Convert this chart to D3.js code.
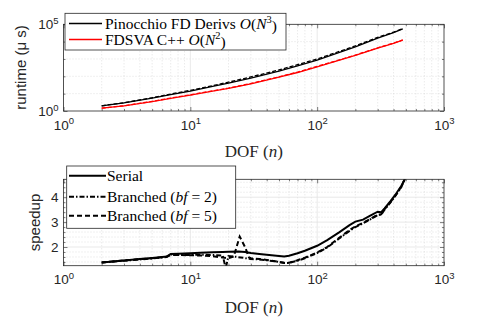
<!DOCTYPE html>
<html>
<head>
<meta charset="utf-8">
<script src="https://cdn.jsdelivr.net/npm/d3@7"></script>
<style>
  body { margin: 0; background: #fff; }
  svg { display: block; }
</style>
</head>
<body>
<svg id="chart" width="491" height="327"></svg>
<script>
// top panel: runtime in microseconds
const nTop = [2, 3, 5, 7, 10, 15, 20, 30, 50, 70, 100, 150, 200, 300, 400, 473];
const pinocchio = [2.0, 2.95, 5.6, 8.9, 14, 26, 40, 79, 200, 400, 870, 2400, 5000, 16000, 33000, 54000];
const pinocchioB = [2.0, 3.0, 5.8, 9.5, 15.5, 29, 46, 92, 235, 470, 1000, 2750, 5700, 17500, 35000, 56000];
const fdsva = [1.45, 2.0, 3.5, 5.4, 8.3, 14, 20, 37, 89, 166, 355, 850, 1600, 4200, 7900, 12300];
const fdsvaB = [1.45, 2.0, 3.6, 5.6, 8.6, 14.5, 21, 39, 93, 175, 375, 890, 1680, 4400, 8200, 12600];

// bottom panel: speedup
const nSerial = [2, 3, 4, 5, 6, 6.5, 7, 8, 10, 12, 15, 18, 20, 24, 27, 30, 35, 40, 50, 55, 60, 70, 80, 100, 120, 150, 180, 200, 230, 260, 300, 320, 340, 380, 420, 460, 500];
const serial = [1.38, 1.46, 1.52, 1.56, 1.60, 1.62, 1.72, 1.73, 1.75, 1.77, 1.79, 1.80, 1.81, 1.82, 1.80, 1.76, 1.72, 1.69, 1.64, 1.62, 1.65, 1.75, 1.85, 2.05, 2.28, 2.60, 2.88, 3.02, 3.10, 3.25, 3.42, 3.40, 3.55, 3.85, 4.15, 4.45, 4.8];
const nBf2 = [2, 3, 4, 5, 6, 6.5, 7, 8, 10, 12, 15, 18, 19, 20, 22, 25, 30, 35, 40, 50, 55, 60, 70, 80, 100, 120, 150, 180, 200, 230, 260, 300, 320, 340, 380, 420, 460, 500];
const bf2 = [1.38, 1.45, 1.50, 1.54, 1.58, 1.60, 1.70, 1.68, 1.68, 1.69, 1.68, 1.66, 1.15, 1.64, 1.62, 1.58, 1.52, 1.50, 1.47, 1.40, 1.36, 1.36, 1.45, 1.55, 1.76, 1.98, 2.35, 2.65, 2.80, 2.95, 3.10, 3.28, 3.30, 3.50, 3.80, 4.10, 4.40, 4.80];
const nBf5 = [2, 3, 4, 5, 6, 6.5, 7, 8, 10, 12, 15, 18, 20, 22, 24.5, 27, 29, 30, 35, 40, 50, 55, 60, 70, 80, 100, 120, 150, 180, 200, 230, 260, 300, 320, 340, 380, 420, 460, 500];
const bf5 = [1.38, 1.46, 1.51, 1.55, 1.59, 1.61, 1.68, 1.68, 1.67, 1.66, 1.63, 1.58, 1.55, 1.62, 2.42, 2.0, 1.58, 1.55, 1.52, 1.48, 1.40, 1.37, 1.37, 1.47, 1.57, 1.78, 2.0, 2.38, 2.68, 2.83, 2.97, 3.12, 3.30, 3.31, 3.52, 3.82, 4.12, 4.42, 4.82];

const xTicks = [1, 10, 100, 1000];
const yTopTicks = [1, 1e5];
const yBotTicks = [2, 3, 4];

const svg = d3.select("#chart");
const axisColor = "#262626";
const left = 63.5, right = 444;
const SERIF = '"Liberation Serif"';
const SANS = '"Liberation Sans"';

const x = d3.scaleLog().domain([1, 1000]).range([left, right]);
const yTop = d3.scaleLog().domain([1, 1e5]).range([111, 24.3]);
const yBot = d3.scaleLinear().domain([1.25, 4.72]).range([265.7, 179.3]);

const minorX = [];
[1, 10, 100].forEach(d => { for (let k = 2; k <= 9; k++) minorX.push(d * k); });

const supLabel = (sel, exps) => {
  sel.selectAll(".tick text").each(function(d, i) {
    const t = d3.select(this).text(null);
    t.append("tspan").text("10");
    t.append("tspan").attr("dy", "-0.55em").style("font-size", "9.5px").text(exps[i]);
  });
};

const drawFrame = (id, yScale, yMajor, yMinor) => {
  const g = svg.append("g").attr("class", id);
  const [y0, y1] = yScale.range();
  g.append("rect").attr("x", left).attr("y", y1).attr("width", right - left).attr("height", y0 - y1).attr("fill", "#fff");

  // grid
  g.selectAll(".mxg").data(minorX).join("line")
    .attr("x1", d => x(d)).attr("x2", d => x(d)).attr("y1", y1).attr("y2", y0)
    .attr("stroke", "#cfcfcf").attr("stroke-width", 0.6).attr("stroke-dasharray", "1,2");
  g.selectAll(".myg").data(yMinor).join("line")
    .attr("x1", left).attr("x2", right).attr("y1", d => yScale(d)).attr("y2", d => yScale(d))
    .attr("stroke", "#cfcfcf").attr("stroke-width", 0.6).attr("stroke-dasharray", "1,2");
  g.selectAll(".Mxg").data([10, 100]).join("line")
    .attr("x1", d => x(d)).attr("x2", d => x(d)).attr("y1", y1).attr("y2", y0)
    .attr("stroke", "#e3e3e3").attr("stroke-width", 0.8);
  g.selectAll(".Myg").data(yMajor.filter(d => yScale(d) > y1 + 1 && yScale(d) < y0 - 1)).join("line")
    .attr("x1", left).attr("x2", right).attr("y1", d => yScale(d)).attr("y2", d => yScale(d))
    .attr("stroke", "#e3e3e3").attr("stroke-width", 0.8);
  return g;
};

const drawAxes = (g, yScale, yMajor, yMinor, yFmt) => {
  const [y0, y1] = yScale.range();
  const style = a => {
    a.select(".domain").remove();
    a.selectAll("line").attr("stroke", axisColor).attr("stroke-width", 0.6);
  };
  const bottom = g.append("g").attr("transform", `translate(0,${y0})`)
    .call(d3.axisBottom(x).tickValues(xTicks).tickSize(-4).tickPadding(9).tickFormat(d => d))
    .call(style);
  bottom.selectAll("text").style("font-family", SANS).style("font-size", "13.5px").attr("fill", axisColor);
  supLabel(bottom, ["0", "1", "2", "3"]);
  g.append("g").attr("transform", `translate(0,${y0})`)
    .call(d3.axisBottom(x).tickValues(minorX).tickSize(-2).tickFormat("")).call(style);
  g.append("g").attr("transform", `translate(0,${y1})`)
    .call(d3.axisTop(x).tickValues(xTicks).tickSize(-4).tickFormat("")).call(style);
  g.append("g").attr("transform", `translate(0,${y1})`)
    .call(d3.axisTop(x).tickValues(minorX).tickSize(-2).tickFormat("")).call(style);

  const la = g.append("g").attr("transform", `translate(${left},0)`)
    .call(d3.axisLeft(yScale).tickValues(yMajor).tickSize(-4).tickPadding(5).tickFormat(yFmt))
    .call(style);
  la.selectAll("text").style("font-family", SANS).style("font-size", "13.5px").attr("fill", axisColor);
  g.append("g").attr("transform", `translate(${right},0)`)
    .call(d3.axisRight(yScale).tickValues(yMajor).tickSize(-4).tickFormat("")).call(style);
  g.append("g").attr("transform", `translate(${left},0)`)
    .call(d3.axisLeft(yScale).tickValues(yMinor).tickSize(-2).tickFormat("")).call(style);
  g.append("g").attr("transform", `translate(${right},0)`)
    .call(d3.axisRight(yScale).tickValues(yMinor).tickSize(-2).tickFormat("")).call(style);

  g.append("rect").attr("x", left).attr("y", y1).attr("width", right - left).attr("height", y0 - y1)
    .attr("fill", "none").attr("stroke", axisColor).attr("stroke-width", 0.8);
  return la;
};

const addClip = (id, yScale) => {
  const [y0, y1] = yScale.range();
  svg.append("clipPath").attr("id", id).append("rect")
    .attr("x", left).attr("y", y1).attr("width", right - left).attr("height", y0 - y1);
};

// ---------- top panel ----------
const topMinor = [10, 100, 1000, 10000];
const gT = drawFrame("top", yTop, yTopTicks, topMinor);
addClip("clipTop", yTop);
const lineTop = d3.line().x(d => x(d[0])).y(d => yTop(d[1]));
const topSeries = [
  { v: fdsvaB, color: "#ff0000", dash: "4,2" },
  { v: fdsva, color: "#ff0000", dash: null },
  { v: pinocchioB, color: "#000", dash: "4,2" },
  { v: pinocchio, color: "#000", dash: null }
];
const gTl = gT.append("g").attr("clip-path", "url(#clipTop)");
topSeries.forEach(s => {
  gTl.append("path").datum(nTop.map((n, i) => [n, s.v[i]]))
    .attr("d", lineTop).attr("fill", "none").attr("stroke", s.color)
    .attr("stroke-width", 1.3).attr("stroke-dasharray", s.dash);
});
const laT = drawAxes(gT, yTop, yTopTicks, topMinor, d => d);
supLabel(laT, ["0", "5"]);

// ---------- bottom panel ----------
const botMinor = d3.range(1.4, 4.71, 0.2).filter(d => Math.abs(d - Math.round(d)) > 0.05);
const gB = drawFrame("bot", yBot, yBotTicks, botMinor);
addClip("clipBot", yBot);
const lineBot = d3.line().x(d => x(d[0])).y(d => yBot(d[1]));
const botSeries = [
  { n: nBf5, v: bf5, dash: "5,3" },
  { n: nBf2, v: bf2, dash: "5,2,1.5,2" },
  { n: nSerial, v: serial, dash: null }
];
const gBl = gB.append("g").attr("clip-path", "url(#clipBot)");
botSeries.forEach(s => {
  gBl.append("path").datum(s.n.map((n, i) => [n, s.v[i]]))
    .attr("d", lineBot).attr("fill", "none").attr("stroke", "#000")
    .attr("stroke-width", 2).attr("stroke-dasharray", s.dash);
});
drawAxes(gB, yBot, yBotTicks, botMinor, d3.format("d"));

// ---------- axis labels ----------
[157, 313].forEach(yy => {
  const t = svg.append("text").attr("x", (left + right) / 2).attr("y", yy)
    .attr("text-anchor", "middle").style("font-family", SERIF).style("font-size", "17px").attr("fill", axisColor);
  t.append("tspan").text("DOF (");
  t.append("tspan").style("font-style", "italic").text("n");
  t.append("tspan").text(")");
});
svg.append("text").attr("transform", "translate(26,67.5) rotate(-90)")
  .attr("text-anchor", "middle").style("font-family", SANS).style("font-size", "15px").attr("fill", axisColor)
  .text("runtime (\u03bc s)");
svg.append("text").attr("transform", "translate(40,222.5) rotate(-90)")
  .attr("text-anchor", "middle").style("font-family", SANS).style("font-size", "15px").attr("fill", axisColor)
  .text("speedup");

// ---------- legends ----------
const legTop = svg.append("g");
legTop.append("rect").attr("x", 65).attr("y", 13.3).attr("width", 221).attr("height", 36.7)
  .attr("fill", "#fff").attr("stroke", axisColor).attr("stroke-width", 0.8);
const topLeg = [
  { label: "Pinocchio FD Derivs ", sup: "3", color: "#000", y: 23.5 },
  { label: "FDSVA C++ ", sup: "2", color: "#ff0000", y: 39.5 }
];
topLeg.forEach(d => {
  legTop.append("line").attr("x1", 69).attr("x2", 102).attr("y1", d.y).attr("y2", d.y)
    .attr("stroke", d.color).attr("stroke-width", 1.3);
  const t = legTop.append("text").attr("x", 105).attr("y", d.y + 5)
    .style("font-family", SERIF).style("font-size", "15.5px").attr("fill", "#000");
  t.append("tspan").text(d.label);
  t.append("tspan").style("font-style", "italic").text("O");
  t.append("tspan").text("(");
  t.append("tspan").style("font-style", "italic").text("N");
  t.append("tspan").attr("dy", "-0.5em").style("font-size", "10.5px").text(d.sup);
  t.append("tspan").attr("dy", "0.5em").text(")");
});

const legBot = svg.append("g");
legBot.append("rect").attr("x", 66.7).attr("y", 166).attr("width", 169).attr("height", 62.3)
  .attr("fill", "#fff").attr("stroke", axisColor).attr("stroke-width", 0.8);
const botLeg = [
  { label: "Serial", bf: null, dash: null, y: 175.7 },
  { label: "Branched (", bf: "2", dash: "5,2,1.5,2", y: 196.7 },
  { label: "Branched (", bf: "5", dash: "5,3", y: 215.7 }
];
botLeg.forEach(d => {
  legBot.append("line").attr("x1", 69).attr("x2", 106).attr("y1", d.y).attr("y2", d.y)
    .attr("stroke", "#000").attr("stroke-width", 2).attr("stroke-dasharray", d.dash);
  const t = legBot.append("text").attr("x", 107).attr("y", d.y + 5)
    .style("font-family", SERIF).style("font-size", "15.5px").attr("fill", "#000");
  t.append("tspan").text(d.label);
  if (d.bf) {
    t.append("tspan").style("font-style", "italic").text("bf");
    t.append("tspan").text(" = " + d.bf + ")");
  }
});
</script>
</body>
</html>
